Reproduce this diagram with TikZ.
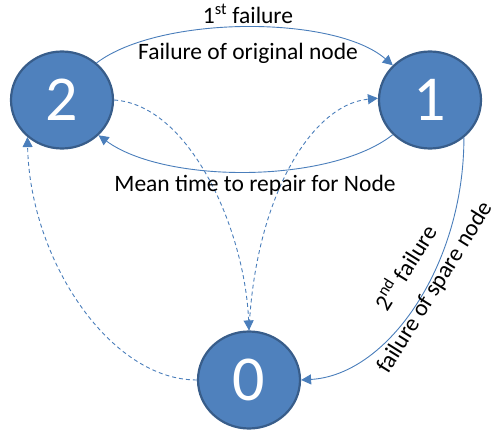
\documentclass[tikz,border=0pt]{standalone}
\usepackage{fontspec}
\setmainfont{Carlito}
\usetikzlibrary{shapes.geometric,arrows.meta}
\definecolor{nodefill}{HTML}{4F81BD}
\definecolor{nodeborder}{HTML}{385D8A}
\definecolor{linecol}{HTML}{4A7EBB}
\begin{document}
\begin{tikzpicture}[x=1pt,y=-1pt,
  state/.style={ellipse, fill=nodefill, draw=nodeborder, line width=2.2pt,
    minimum width=102pt, minimum height=97pt, inner sep=0pt,
    text=white, font=\fontsize{64}{64}\selectfont},
  lbl/.style={font=\fontsize{23.5}{26}\selectfont, inner sep=0pt},
  conn/.style={draw=linecol, line width=0.9pt, -{Triangle[length=10pt,width=10pt]}},
  dconn/.style={conn, dash pattern=on 4pt off 3pt}]
\useasboundingbox (0,0) rectangle (493,430);
\node[state] (n2) at (62,100) {2};
\node[state] (n1) at (430,100) {1};
\node[state] (n0) at (249,380) {0};

\draw[conn] (n2.47) .. controls (160,15) and (335,15) .. (n1.137);
\draw[conn] (n1.223) .. controls (330,184) and (165,184) .. (n2.316);
\draw[conn] (n1.312) .. controls (464,265) and (388,375) .. (n0.east);

\draw[dconn] (n2.east) .. controls (190,105) and (245,230) .. (n0.north);
\draw[dconn] (n0.north) .. controls (255,200) and (310,105) .. (n1.178);
\draw[dconn] (n0.west) .. controls (110,380) and (30,260) .. (n2.227);

\node[lbl, anchor=base] (l1) at (248,24) {1\textsuperscript{st} failure};
\node[lbl, anchor=base] (l2) at (248,60) {Failure of original node};
\node[lbl, anchor=base] (l3) at (255,192) {Mean time to repair for Node};
\node[lbl, rotate=58, anchor=base west] (l4) at (387,313) {2\textsuperscript{nd} failure};
\node[lbl, rotate=58, anchor=base west] (l5) at (388,375) {failure of spare node};
\end{tikzpicture}
\end{document}
